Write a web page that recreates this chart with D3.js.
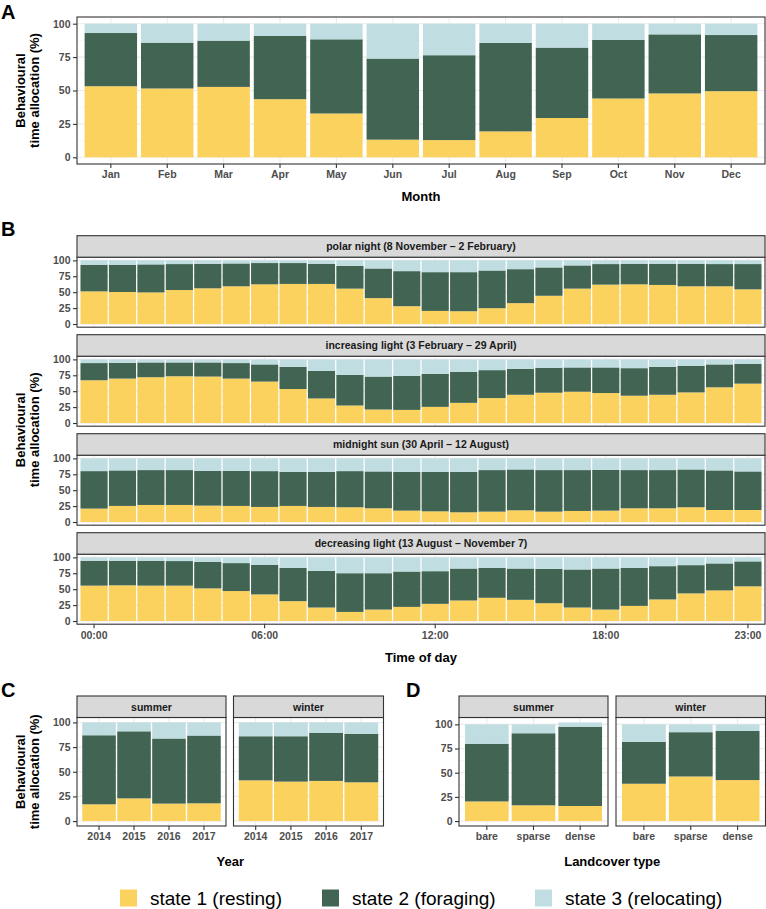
<!DOCTYPE html>
<html><head><meta charset="utf-8">
<script src="https://cdn.jsdelivr.net/npm/d3@7"></script>
<style>
body{margin:0;background:#fff}
svg{display:block}
text{font-family:"Liberation Sans",Arial,Helvetica,sans-serif}
</style>
</head><body>
<svg id="chart" width="766" height="909"></svg>
<script>
// ---------------- DATA ----------------
const stateKeys = ["resting", "foraging", "relocating"];
const stateLabels = ["state 1 (resting)", "state 2 (foraging)", "state 3 (relocating)"];
const stateColors = ["#FCD25F", "#426452", "#C0DDE2"];
const yTickValues = [0, 25, 50, 75, 100];

// Panel A: by month
const months = ["Jan","Feb","Mar","Apr","May","Jun","Jul","Aug","Sep","Oct","Nov","Dec"];
const monthResting    = [53.2, 51.5, 52.7, 43.5, 32.8, 13.2, 12.9, 19.4, 29.4, 44.0, 47.8, 49.5];
const monthForaging   = [39.8, 34.3, 34.6, 47.3, 55.5, 60.7, 63.5, 66.2, 52.7, 43.8, 44.2, 42.0];
const monthRelocating = [ 7.0, 14.2, 12.7,  9.2, 11.7, 26.1, 23.6, 14.4, 17.9, 12.2,  8.0,  8.5];

// Panel B: by hour of day, four light seasons
const hours = ["00:00","01:00","02:00","03:00","04:00","05:00","06:00","07:00","08:00","09:00","10:00","11:00",
               "12:00","13:00","14:00","15:00","16:00","17:00","18:00","19:00","20:00","21:00","22:00","23:00"];
const hourTicks = ["00:00","06:00","12:00","18:00","23:00"];
const seasonNames = ["polar night (8 November \u2013 2 February)", "increasing light (3 February \u2013 29 April)",
                     "midnight sun (30 April \u2013 12 August)", "decreasing light (13 August \u2013 November 7)"];

const polarResting    = [51.3,50.3,49.7,53.4,56.1,59.3,62.4,63.0,63.0,55.6,40.7,28.0,20.6,20.1,24.9,32.8,44.4,55.6,61.9,62.4,61.4,59.3,59.3,54.5];
const polarForaging   = [41.8,42.8,44.0,40.8,38.6,35.9,33.4,32.8,31.7,35.9,46.6,55.1,60.9,61.4,59.2,53.4,44.5,36.5,32.3,32.3,33.3,35.4,34.9,39.7];
const polarRelocating = [ 6.9, 6.9, 6.3, 5.8, 5.3, 4.8, 4.2, 4.2, 5.3, 8.5,12.7,16.9,18.5,18.5,15.9,13.8,11.1, 7.9, 5.8, 5.3, 5.3, 5.3, 5.8, 5.8];

const incResting    = [67.2,69.8,72.0,73.5,73.0,69.8,65.1,53.4,38.6,27.5,21.2,20.6,25.4,31.7,39.2,44.4,47.6,49.2,47.1,42.9,44.4,48.1,56.1,61.9];
const incForaging   = [27.0,24.9,23.2,21.7,22.2,24.4,27.0,35.0,43.4,48.2,51.8,53.5,51.8,48.7,43.9,40.8,39.2,38.1,40.2,43.3,44.0,41.9,36.0,31.2];
const incRelocating = [ 5.8, 5.3, 4.8, 4.8, 4.8, 5.8, 7.9,11.6,18.0,24.3,27.0,25.9,22.8,19.6,16.9,14.8,13.2,12.7,12.7,13.8,11.6,10.0, 7.9, 6.9];

const midResting    = [21.1,25.3,26.8,26.8,25.8,25.3,23.7,25.3,23.7,23.2,21.6,17.9,16.8,15.3,16.3,18.4,16.3,17.4,17.9,21.6,21.6,23.2,18.9,18.9];
const midForaging   = [58.9,55.8,54.8,54.8,54.7,55.2,56.3,53.6,55.2,56.8,57.9,61.0,62.1,63.6,65.3,64.2,65.3,64.2,64.2,60.0,60.0,59.4,62.2,60.6];
const midRelocating = [20.0,18.9,18.4,18.4,19.5,19.5,20.0,21.1,21.1,20.0,20.5,21.1,21.1,21.1,18.4,17.4,18.4,18.4,17.9,18.4,18.4,17.4,18.9,20.5];

const decResting    = [55.6,56.1,55.6,55.6,51.3,47.1,41.8,31.2,21.2,14.3,18.0,22.2,27.0,32.3,36.5,33.3,28.0,21.2,18.0,23.8,33.9,43.4,48.1,54.5];
const decForaging   = [39.1,38.6,39.1,38.6,41.8,43.9,46.6,52.4,57.6,60.8,57.1,55.6,51.3,50.2,47.1,49.2,54.0,59.8,64.5,59.8,52.3,44.4,42.4,39.2];
const decRelocating = [ 5.3, 5.3, 5.3, 5.8, 6.9, 9.0,11.6,16.4,21.2,24.9,24.9,22.2,21.7,17.5,16.4,17.5,18.0,19.0,17.5,16.4,13.8,12.2, 9.5, 6.3];

// Panel C: by year
const years = ["2014","2015","2016","2017"];
const yearSummerResting    = [17.0, 23.0, 17.7, 18.0];
const yearSummerForaging   = [70.0, 68.0, 66.0, 68.7];
const yearSummerRelocating = [13.0,  9.0, 16.3, 13.3];
const yearWinterResting    = [41.3, 40.0, 40.7, 39.3];
const yearWinterForaging   = [44.7, 46.0, 48.6, 49.0];
const yearWinterRelocating = [14.0, 14.0, 10.7, 11.7];

// Panel D: by landcover
const landcover = ["bare","sparse","dense"];
const landSummerResting    = [20.3, 16.3, 15.6];
const landSummerForaging   = [59.7, 74.5, 82.0];
const landSummerRelocating = [20.0,  9.2,  4.4];
const landWinterResting    = [38.6, 46.1, 42.4];
const landWinterForaging   = [43.4, 45.8, 50.8];
const landWinterRelocating = [18.0,  8.1,  6.8];

const facetNames = ["summer", "winter"];

// ---------------- HELPERS ----------------
function makeRows(cats, r, f, l) {
  return cats.map((c, i) => ({cat: c, resting: r[i], foraging: f[i], relocating: l[i]}));
}
const color = d3.scaleOrdinal().domain(stateKeys).range(stateColors);
const stack = d3.stack().keys(stateKeys);
const svg = d3.select("#chart");
const tickColor = "#333333", tickTextColor = "#4d4d4d", borderColor = "#333333";

function yScaleFor(rowSets, y0, y1) {
  const maxT = d3.max(rowSets.flat(), d => d.resting + d.foraging + d.relocating);
  return d3.scaleLinear().domain([-0.05 * maxT, 1.05 * maxT]).range([y1, y0]);
}

function drawPanel(o) {
  const g = svg.append("g");
  const x = d3.scaleBand().domain(o.cats).range([o.x0, o.x1]).paddingInner(o.pi).paddingOuter(o.po);
  const y = o.y;
  // background grid
  const minor = [12.5, 37.5, 62.5, 87.5];
  g.append("g").selectAll("line").data(minor).join("line")
    .attr("x1", o.x0).attr("x2", o.x1).attr("y1", d => y(d)).attr("y2", d => y(d))
    .attr("stroke", "#f2f2f2").attr("stroke-width", 0.6);
  g.append("g").selectAll("line").data(yTickValues).join("line")
    .attr("x1", o.x0).attr("x2", o.x1).attr("y1", d => y(d)).attr("y2", d => y(d))
    .attr("stroke", "#ebebeb").attr("stroke-width", 1.1);
  g.append("g").selectAll("line").data(o.xTicks).join("line")
    .attr("x1", d => x(d) + x.bandwidth() / 2).attr("x2", d => x(d) + x.bandwidth() / 2)
    .attr("y1", o.y0).attr("y2", o.y1)
    .attr("stroke", "#ebebeb").attr("stroke-width", 1.1);
  // bars
  const series = stack(o.rows);
  g.append("g").selectAll("g").data(series).join("g")
    .attr("fill", d => color(d.key))
    .selectAll("rect").data(d => d).join("rect")
    .attr("x", d => x(d.data.cat))
    .attr("width", x.bandwidth())
    .attr("y", d => y(d[1]))
    .attr("height", d => y(d[0]) - y(d[1]));
  // border
  g.append("rect").attr("x", o.x0).attr("y", o.y0).attr("width", o.x1 - o.x0).attr("height", o.y1 - o.y0)
    .attr("fill", "none").attr("stroke", borderColor).attr("stroke-width", 1.1);
  // strip
  if (o.strip) {
    g.append("rect").attr("x", o.x0).attr("y", o.stripTop).attr("width", o.x1 - o.x0).attr("height", o.y0 - o.stripTop)
      .attr("fill", "#d9d9d9").attr("stroke", borderColor).attr("stroke-width", 1.1);
    g.append("text").attr("x", (o.x0 + o.x1) / 2).attr("y", (o.stripTop + o.y0) / 2).attr("dy", "0.36em")
      .attr("text-anchor", "middle").style("font-size", "10.5px").style("font-weight", "bold")
      .attr("fill", "#1a1a1a").text(o.strip);
  }
  // axes
  if (o.showY) {
    const ay = g.append("g").attr("transform", `translate(${o.x0},0)`)
      .call(d3.axisLeft(y).tickValues(yTickValues).tickSize(4).tickPadding(2.5));
    styleAxis(ay);
  }
  if (o.showX) {
    const ax = g.append("g").attr("transform", `translate(0,${o.y1})`)
      .call(d3.axisBottom(x).tickValues(o.xTicks).tickSize(4).tickPadding(3));
    styleAxis(ax);
  }
  return g;
}
function styleAxis(a) {
  a.select(".domain").remove();
  a.selectAll(".tick line").attr("stroke", tickColor).attr("stroke-width", 1.1);
  a.selectAll(".tick text").attr("fill", tickTextColor).style("font-size", "10.5px").style("font-weight", "bold")
    .style("font-family", "'Liberation Sans',Arial,sans-serif");
}
function yTitle(cy) {
  const t = svg.append("text").attr("transform", `translate(0,${cy}) rotate(-90)`)
    .attr("text-anchor", "middle").style("font-size", "13px").style("font-weight", "bold").attr("fill", "#000");
  t.append("tspan").attr("x", 0).attr("y", 24.5).text("Behavioural");
  t.append("tspan").attr("x", 0).attr("y", 39).text("time allocation (%)");
}
function xTitle(cx, cy, label) {
  svg.append("text").attr("x", cx).attr("y", cy).attr("dy", "0.36em").attr("text-anchor", "middle")
    .style("font-size", "13px").style("font-weight", "bold").attr("fill", "#000").text(label);
}
function letter(x, y, l) {
  svg.append("text").attr("x", x).attr("y", y).style("font-size", "20px").style("font-weight", "bold")
    .attr("fill", "#000").text(l);
}

// ---------------- PANEL A ----------------
const rowsA = makeRows(months, monthResting, monthForaging, monthRelocating);
const A = {x0: 77, x1: 765, y0: 17, y1: 164};
drawPanel({...A, cats: months, rows: rowsA, pi: 0.07, po: 0.135, y: yScaleFor([rowsA], A.y0, A.y1),
  xTicks: months, showX: true, showY: true});
letter(1, 19, "A");
yTitle((A.y0 + A.y1) / 2);
xTitle((A.x0 + A.x1) / 2, 196, "Month");

// ---------------- PANEL B ----------------
const seasonRows = [
  makeRows(hours, polarResting, polarForaging, polarRelocating),
  makeRows(hours, incResting, incForaging, incRelocating),
  makeRows(hours, midResting, midForaging, midRelocating),
  makeRows(hours, decResting, decForaging, decRelocating)
];
const B = {x0: 77, x1: 765, top: 235.7, stripH: 21.5, panelH: 70, period: 99};
seasonRows.forEach((rows, i) => {
  const stripTop = B.top + i * B.period;
  const y0 = stripTop + B.stripH, y1 = y0 + B.panelH;
  drawPanel({x0: B.x0, x1: B.x1, y0, y1, stripTop, strip: seasonNames[i], cats: hours, rows,
    pi: 0.045, po: 0.1225, y: yScaleFor(seasonRows, y0, y1), xTicks: hourTicks,
    showX: i === seasonRows.length - 1, showY: true});
});
letter(1, 235.5, "B");
yTitle((B.top + B.top + 3 * B.period + B.stripH + B.panelH) / 2);
xTitle((B.x0 + B.x1) / 2, 657, "Time of day");

// ---------------- PANEL C ----------------
const rowsC = [
  makeRows(years, yearSummerResting, yearSummerForaging, yearSummerRelocating),
  makeRows(years, yearWinterResting, yearWinterForaging, yearWinterRelocating)
];
const CD = {stripTop: 696, y0: 717.5, y1: 826};
const Cx = [[77, 226], [233.5, 383.5]];
rowsC.forEach((rows, i) => {
  drawPanel({x0: Cx[i][0], x1: Cx[i][1], y0: CD.y0, y1: CD.y1, stripTop: CD.stripTop, strip: facetNames[i],
    cats: years, rows, pi: 0.04, po: 0.15, y: yScaleFor(rowsC, CD.y0, CD.y1), xTicks: years,
    showX: true, showY: i === 0});
});
letter(1, 697, "C");
yTitle((CD.y0 + CD.y1) / 2);
xTitle((Cx[0][0] + Cx[1][1]) / 2, 861, "Year");

// ---------------- PANEL D ----------------
const rowsD = [
  makeRows(landcover, landSummerResting, landSummerForaging, landSummerRelocating),
  makeRows(landcover, landWinterResting, landWinterForaging, landWinterRelocating)
];
const Dx = [[459, 608], [616, 765.5]];
rowsD.forEach((rows, i) => {
  drawPanel({x0: Dx[i][0], x1: Dx[i][1], y0: CD.y0, y1: CD.y1, stripTop: CD.stripTop, strip: facetNames[i],
    cats: landcover, rows, pi: 0.064, po: 0.128, y: yScaleFor(rowsD, CD.y0, CD.y1), xTicks: landcover,
    showX: true, showY: i === 0});
});
letter(406, 697, "D");
xTitle((Dx[0][0] + Dx[1][1]) / 2, 861, "Landcover type");

// ---------------- LEGEND ----------------
const legendX = [120, 322, 535];
const lg = svg.append("g").selectAll("g").data(stateKeys).join("g")
  .attr("transform", (d, i) => `translate(${legendX[i]},889.5)`);
lg.append("rect").attr("width", 17).attr("height", 17).attr("fill", d => color(d));
lg.append("text").attr("x", 30).attr("y", 8.5).attr("dy", "0.36em").style("font-size", "19px")
  .attr("fill", "#000").text((d, i) => stateLabels[i]);
</script>
</body></html>
